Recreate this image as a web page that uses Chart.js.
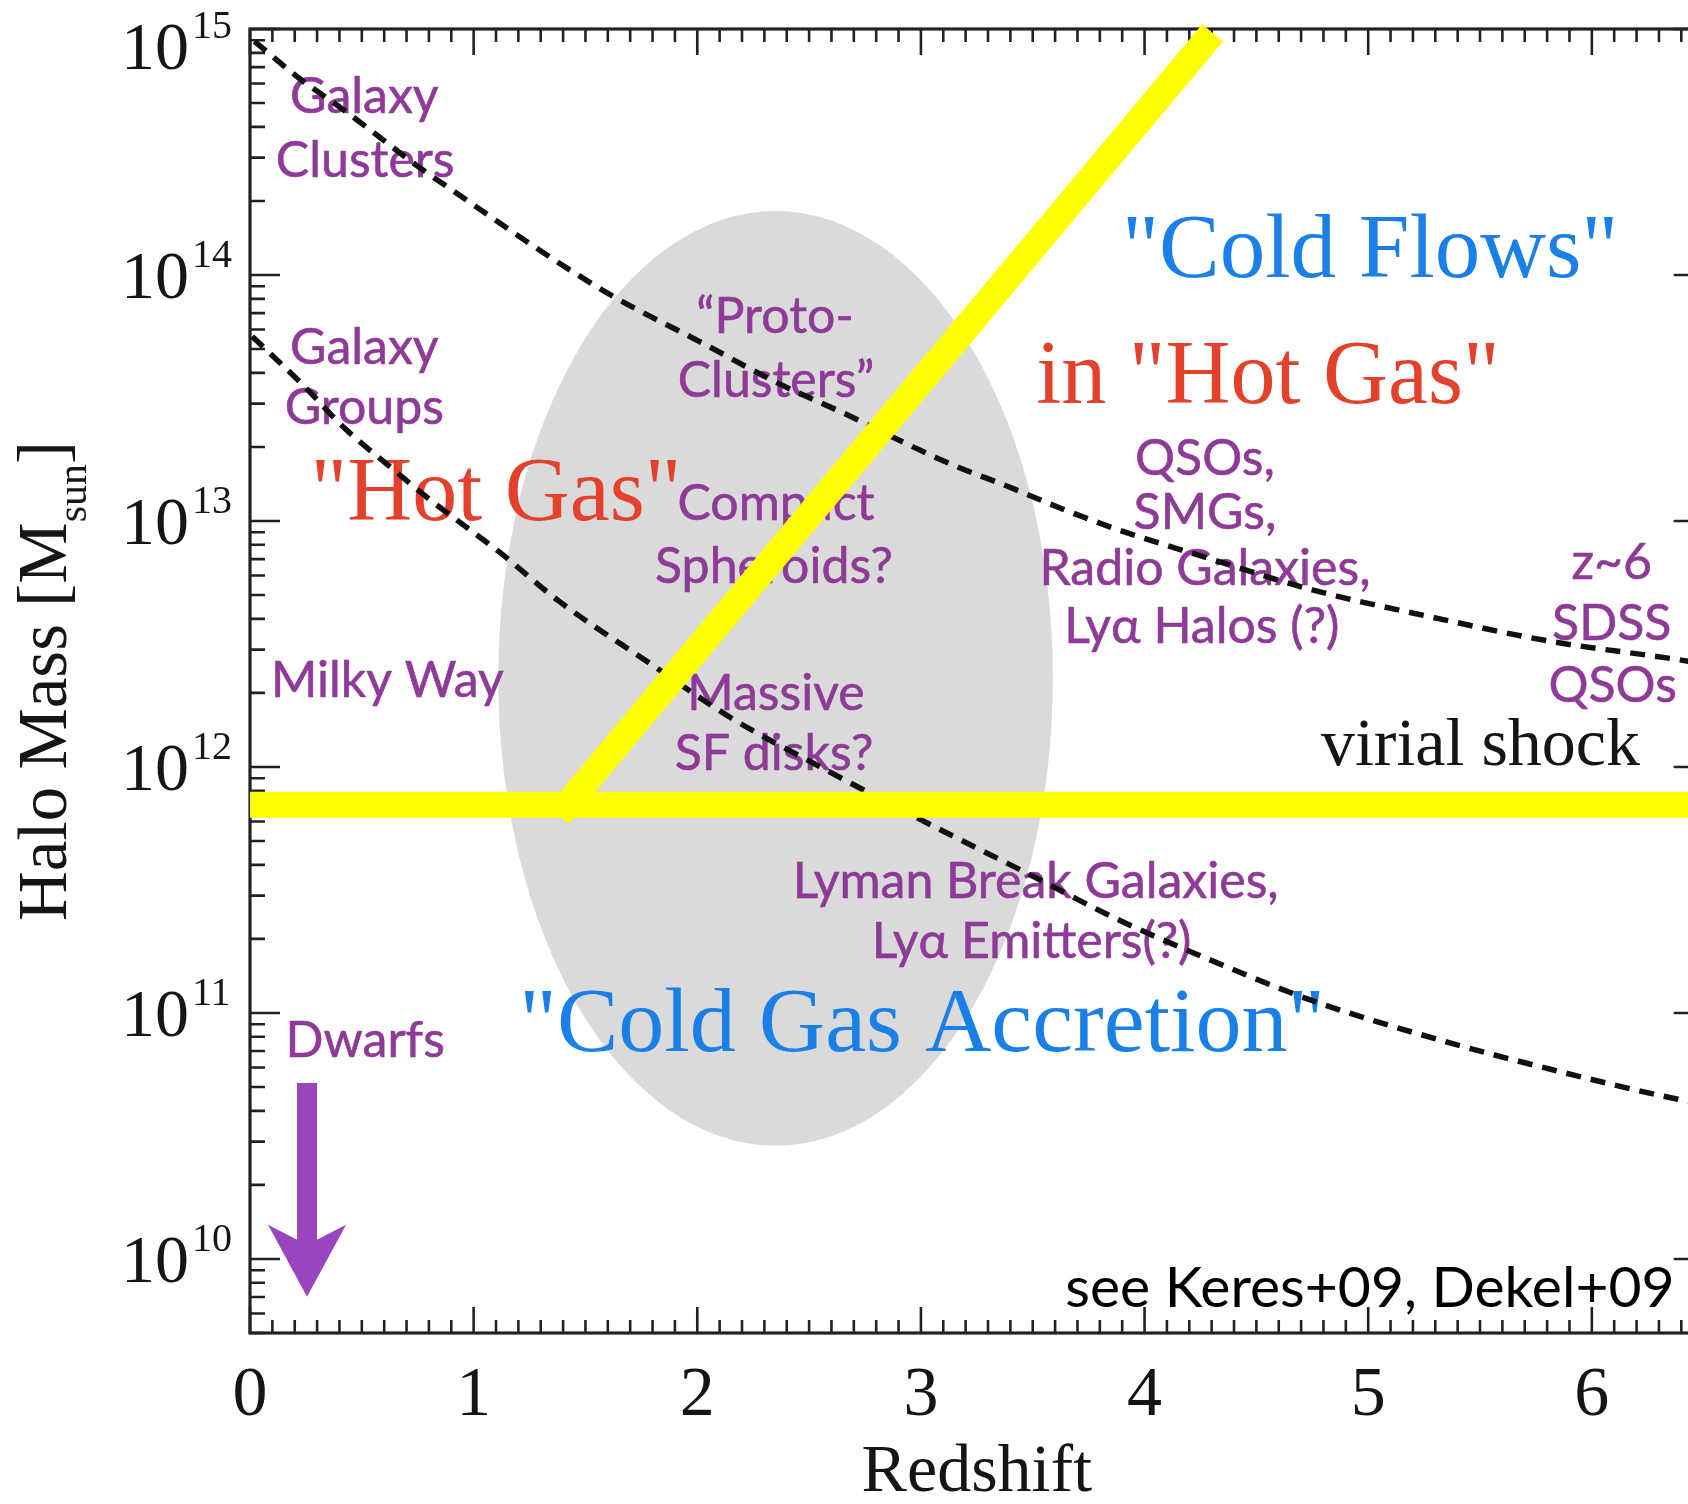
<!DOCTYPE html>
<html>
<head>
<meta charset="utf-8">
<title>Halo mass vs redshift: cold flows and hot gas</title>
<script src="https://cdn.jsdelivr.net/npm/chart.js@4.4.1/dist/chart.umd.min.js"></script>
<style>
  html, body { margin: 0; padding: 0; background: #ffffff; }
  #wrap { width: 1688px; height: 1504px; position: relative; overflow: hidden; }
  canvas { display: block; }
</style>
</head>
<body>
<div id="wrap"><canvas id="chart" width="1688" height="1504"></canvas></div>
<script>
// ---- data -------------------------------------------------------------
const redshiftTicks = [0, 1, 2, 3, 4, 5, 6];
const massTickExponents = [10, 11, 12, 13, 14, 15];

// upper dashed track (cluster-scale haloes), log10 M [Msun] vs z
const clusterTrackZ    = [0.02, 0.22, 0.42, 0.58, 0.73, 0.88, 1.38, 1.63, 2.03, 2.35, 2.71, 2.91, 3.15, 3.39, 3.63, 3.88, 4.28, 4.75, 5.28, 5.82, 6.36, 6.50];
const clusterTrackLogM = [14.95, 14.80, 14.67, 14.56, 14.455, 14.36, 14.05, 13.91, 13.72, 13.565, 13.415, 13.325, 13.225, 13.14, 13.05, 12.965, 12.85, 12.72, 12.61, 12.51, 12.44, 12.42];

// lower dashed track (group-scale haloes)
const groupTrackZ    = [0.01, 0.24, 0.42, 0.64, 0.80, 1.12, 1.38, 1.79, 2.15, 2.54, 2.99, 3.47, 3.88, 4.23, 4.75, 5.32, 5.82, 6.38, 6.50];
const groupTrackLogM = [13.75, 13.55, 13.38, 13.21, 13.09, 12.87, 12.675, 12.42, 12.20, 12.005, 11.79, 11.57, 11.38, 11.24, 11.05, 10.89, 10.77, 10.65, 10.63];

// virial shock mass threshold (horizontal band)
const shockLineZ    = [0, 6.5];
const shockLineLogM = [11.846, 11.846];

// cold streams inside hot haloes (diagonal band)
const coldFlowZ    = [1.378, 4.304];
const coldFlowLogM = [11.803, 14.984];

// shaded region: bounding box of the grey ellipse
const shadedZ    = [1.11, 3.59];
const shadedLogM = [10.46, 14.26];

// dwarf arrow: start and tip
const dwarfArrowZ    = [0.255, 0.255];
const dwarfArrowLogM = [10.715, 9.846];

// ---- axes extent --------------------------------------------------------
const visibleMaxZ = 6.43;   // right edge of the page
const frameMaxZ   = 6.5;    // right side of the plot box (just past the page edge)
const massMin = 5e9, massMax = 1e15;

// ---- styling ----------------------------------------------------------
const SERIF = "'Liberation Serif', 'Times New Roman', serif";
const SANS  = "Lato, 'Noto Sans', sans-serif";
const INK    = '#151515';
const PURPLE = '#8e3a97';
const ARROW  = '#9a45c0';
const RED    = '#e4412c';
const BLUE   = '#1a80e8';
const SHADE  = '#dadada';
const YELLOW = '#ffff00';

const textStyles = {
  tag:   { font: `50px ${SANS}`,  color: PURPLE, align: 'center', stroke: 0.6 },
  hot:   { font: `90px ${SERIF}`, color: RED,    align: 'center' },
  cold:  { font: `91px ${SERIF}`, color: BLUE,   align: 'center' },
  wide:  { font: `92px ${SERIF}`, color: BLUE,   align: 'center' },
  shock: { font: `68px ${SERIF}`, color: INK,    align: 'center' },
  ref:   { font: `57px ${SANS}`,  color: '#000', align: 'right' }
};

// annotation anchors in data coordinates (z, log10 M at text baseline)
const annotations = [
  { text: 'Galaxy',   z: 0.511, m: 14.659, style: 'tag' },
  { text: 'Clusters', z: 0.515, m: 14.398, style: 'tag' },
  { text: 'Galaxy',   z: 0.511, m: 13.638, style: 'tag' },
  { text: 'Groups',   z: 0.511, m: 13.394, style: 'tag' },
  { text: 'Milky Way', z: 0.614, m: 12.285, style: 'tag' },
  { text: 'Dwarfs',   z: 0.515, m: 10.821, style: 'tag' },
  { text: '\u201CProto-',   z: 2.348, m: 13.764, style: 'tag' },
  { text: 'Clusters\u201D', z: 2.352, m: 13.504, style: 'tag' },
  { text: 'Compact',    z: 2.352, m: 13.004, style: 'tag' },
  { text: 'Spheroids?', z: 2.343, m: 12.748, style: 'tag' },
  { text: 'Massive',    z: 2.352, m: 12.232, style: 'tag' },
  { text: 'SF disks?',  z: 2.343, m: 11.988, style: 'tag' },
  { text: 'Lyman Break Galaxies,', z: 3.513, m: 11.467, style: 'tag' },
  { text: 'Ly\u03B1 Emitters(?)',  z: 3.495, m: 11.224, style: 'tag' },
  { text: 'QSOs,',           z: 4.270, m: 13.187, style: 'tag' },
  { text: 'SMGs,',           z: 4.270, m: 12.967, style: 'tag' },
  { text: 'Radio Galaxies,', z: 4.270, m: 12.740, style: 'tag' },
  { text: 'Ly\u03B1 Halos (?)', z: 4.256, m: 12.504, style: 'tag' },
  { text: 'z~6',  z: 6.089, m: 12.764, style: 'tag' },
  { text: 'SDSS', z: 6.089, m: 12.516, style: 'tag' },
  { text: 'QSOs', z: 6.093, m: 12.264, style: 'tag' },
  { text: '"Hot Gas"',          z: 1.100, m: 13.004, style: 'hot' },
  { text: 'in "Hot Gas"',       z: 4.552, m: 13.480, style: 'hot' },
  { text: '"Cold Flows"',       z: 5.009, m: 13.992, style: 'cold' },
  { text: '"Cold Gas Accretion"', z: 3.006, m: 10.846, style: 'wide' },
  { text: 'virial shock',       z: 5.502, m: 12.008, style: 'shock' },
  { text: 'see Keres+09, Dekel+09', z: 6.370, m: 9.805, style: 'ref' }
];

const toPoints = (zs, ms) => zs.map((z, i) => ({ x: z, y: Math.pow(10, ms[i]) }));

// ---- drawing helpers --------------------------------------------------
function mapper(chart) {
  const xs = chart.scales.x, ys = chart.scales.y;
  return {
    px: z => xs.getPixelForValue(z),
    py: lm => ys.getPixelForValue(Math.pow(10, lm))
  };
}

function drawFrame(chart) {
  const { ctx, chartArea: a } = chart;
  const { px, py } = mapper(chart);
  const left = px(0), right = px(frameMaxZ);
  ctx.save();
  ctx.strokeStyle = '#222';
  ctx.lineCap = 'butt';
  // x ticks every 0.1, major at integers, on bottom and top
  ctx.lineWidth = 2.6;
  for (let i = 0; i <= Math.round(frameMaxZ * 10); i++) {
    const x = px(i / 10);
    const len = i % 10 === 0 ? 26 : 13;
    ctx.beginPath();
    ctx.moveTo(x, a.bottom); ctx.lineTo(x, a.bottom - len);
    ctx.moveTo(x, a.top);    ctx.lineTo(x, a.top + len);
    ctx.stroke();
  }
  // y ticks: decades major, 2..9 minor, on left and right
  const lo = Math.log10(massMin), hi = Math.log10(massMax);
  for (let e = Math.floor(lo); e <= Math.ceil(hi); e++) {
    for (let k = 1; k <= 9; k++) {
      const lm = e + Math.log10(k);
      if (lm < lo - 1e-9 || lm > hi + 1e-9) continue;
      const y = py(lm);
      const len = k === 1 ? 30 : 15;
      ctx.beginPath();
      ctx.moveTo(left, y);  ctx.lineTo(left + len, y);
      ctx.moveTo(right, y); ctx.lineTo(right - len, y);
      ctx.stroke();
    }
  }
  ctx.lineWidth = 3.2;
  ctx.strokeRect(left, a.top, right - left, a.bottom - a.top);
  ctx.restore();
}

function drawShade(chart) {
  const { ctx } = chart;
  const { px, py } = mapper(chart);
  const x0 = px(shadedZ[0]), x1 = px(shadedZ[1]);
  const y0 = py(shadedLogM[1]), y1 = py(shadedLogM[0]);
  ctx.save();
  ctx.fillStyle = SHADE;
  ctx.beginPath();
  ctx.ellipse((x0 + x1) / 2, (y0 + y1) / 2, (x1 - x0) / 2, (y1 - y0) / 2, 0, 0, Math.PI * 2);
  ctx.fill();
  ctx.restore();
}

function drawAnnotations(chart) {
  const { ctx } = chart;
  const { px, py } = mapper(chart);
  ctx.save();
  ctx.textBaseline = 'alphabetic';
  ctx.lineJoin = 'round';
  annotations.forEach(a => {
    const s = textStyles[a.style];
    const x = px(a.z), y = py(a.m);
    ctx.font = s.font;
    ctx.fillStyle = s.color;
    ctx.textAlign = s.align;
    ctx.fillText(a.text, x, y);
    if (s.stroke) {
      ctx.strokeStyle = s.color;
      ctx.lineWidth = s.stroke;
      ctx.strokeText(a.text, x, y);
    }
  });
  ctx.restore();
}

function drawArrow(chart) {
  const { ctx } = chart;
  const { px, py } = mapper(chart);
  const x = px(dwarfArrowZ[0]);
  const yTop = py(dwarfArrowLogM[0]);
  const yTip = py(dwarfArrowLogM[1]);
  const shaftHalf = 10, headHalf = 39, headLen = 72, notch = 15;
  const yWing = yTip - headLen;
  ctx.save();
  ctx.fillStyle = ARROW;
  ctx.beginPath();
  ctx.moveTo(x - shaftHalf, yTop);
  ctx.lineTo(x + shaftHalf, yTop);
  ctx.lineTo(x + shaftHalf, yWing + notch);
  ctx.lineTo(x + headHalf, yWing);
  ctx.lineTo(x, yTip);
  ctx.lineTo(x - headHalf, yWing);
  ctx.lineTo(x - shaftHalf, yWing + notch);
  ctx.closePath();
  ctx.fill();
  ctx.restore();
}

function drawAxisTitles(chart) {
  const { ctx, chartArea: a } = chart;
  const { px, py } = mapper(chart);
  ctx.save();
  ctx.fillStyle = INK;
  ctx.textBaseline = 'alphabetic';

  // mass tick labels: 10 with raised exponent
  massTickExponents.forEach(e => {
    const cy = Math.max(py(e), a.top + 17);
    ctx.font = `68px ${SERIF}`;
    ctx.textAlign = 'right';
    ctx.fillText('10', a.left - 61, cy + 23);
    ctx.font = `40px ${SERIF}`;
    ctx.textAlign = 'left';
    ctx.fillText(String(e), a.left - 58, cy - 8);
  });

  // redshift title, centred on the full plot box
  ctx.font = `68px ${SERIF}`;
  ctx.textAlign = 'center';
  ctx.fillText('Redshift', (px(0) + px(frameMaxZ)) / 2, a.bottom + 158);

  // rotated mass title with subscript
  const main = 'Halo Mass [M', sub = 'sun', end = ']';
  const big = `69px ${SERIF}`, small = `42px ${SERIF}`;
  ctx.font = big;
  const wMain = ctx.measureText(main).width, wEnd = ctx.measureText(end).width;
  ctx.font = small;
  const wSub = ctx.measureText(sub).width;
  const total = wMain + wSub + wEnd;
  ctx.translate(a.left - 184, (a.top + a.bottom) / 2);
  ctx.rotate(-Math.PI / 2);
  ctx.textAlign = 'left';
  let x = -total / 2;
  ctx.font = big;   ctx.fillText(main, x, 0); x += wMain;
  ctx.font = small; ctx.fillText(sub, x, 20); x += wSub;
  ctx.font = big;   ctx.fillText(end, x, 0);
  ctx.restore();
}

const backdrop = {
  id: 'backdrop',
  beforeDraw(chart) {
    const { ctx, width, height } = chart;
    ctx.save();
    ctx.fillStyle = '#ffffff';
    ctx.fillRect(0, 0, width, height);
    ctx.restore();
  },
  beforeDatasetsDraw(chart) {
    drawShade(chart);
    drawFrame(chart);
    drawAnnotations(chart);
    drawArrow(chart);
  },
  afterDraw(chart) {
    drawAxisTitles(chart);
  }
};

// ---- chart ------------------------------------------------------------
const lineBase = { showLine: true, pointRadius: 0, pointHoverRadius: 0, fill: false, clip: false };

new Chart(document.getElementById('chart'), {
  type: 'scatter',
  data: {
    datasets: [
      Object.assign({}, lineBase, {
        label: 'cold flows',
        data: toPoints(coldFlowZ, coldFlowLogM),
        borderColor: YELLOW, borderWidth: 27, borderCapStyle: 'butt'
      }),
      Object.assign({}, lineBase, {
        label: 'virial shock',
        data: toPoints(shockLineZ, shockLineLogM),
        borderColor: YELLOW, borderWidth: 26, borderCapStyle: 'butt'
      }),
      Object.assign({}, lineBase, {
        label: 'cluster track',
        data: toPoints(clusterTrackZ, clusterTrackLogM),
        borderColor: '#111', borderWidth: 5.5, borderDash: [15, 10],
        cubicInterpolationMode: 'monotone'
      }),
      Object.assign({}, lineBase, {
        label: 'group track',
        data: toPoints(groupTrackZ, groupTrackLogM),
        borderColor: '#111', borderWidth: 5.5, borderDash: [15, 10],
        cubicInterpolationMode: 'monotone'
      })
    ]
  },
  options: {
    responsive: false,
    devicePixelRatio: 1,
    animation: false,
    events: [],
    layout: { autoPadding: false, padding: { left: 250, top: 29, right: 0, bottom: 0 } },
    plugins: { legend: { display: false }, tooltip: { enabled: false } },
    scales: {
      x: {
        type: 'linear', position: 'bottom', min: 0, max: visibleMaxZ,
        afterBuildTicks: s => { s.ticks = redshiftTicks.map(v => ({ value: v })); },
        afterFit: s => { s.height = 171; },
        grid: { display: false, drawTicks: false },
        border: { display: false },
        ticks: {
          autoSkip: false, maxRotation: 0, includeBounds: false, padding: 22,
          color: INK, font: { family: SERIF, size: 70 }
        },
        title: { display: false }
      },
      y: { type: 'logarithmic', min: massMin, max: massMax, display: false }
    }
  },
  plugins: [backdrop]
});
</script>
</body>
</html>
